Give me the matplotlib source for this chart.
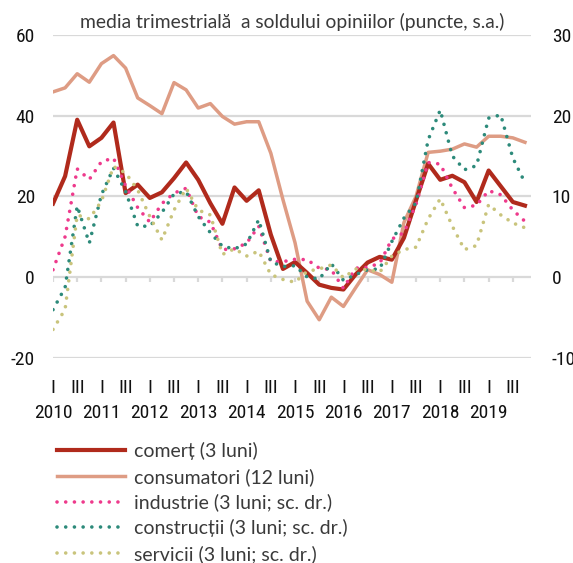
import numpy as np
import matplotlib
matplotlib.use("Agg")
import matplotlib.pyplot as plt
from matplotlib import font_manager


# quarterly values, 2010 Q1 .. 2019 Q4
comert = [18.2, 25, 39, 32.4, 34.5, 38.3, 20.8, 22.9, 19.6, 21,
          24.5, 28.4, 24.1, 18.3, 13.2, 22.2, 18.9, 21.5, 10.5, 2,
          3.7, 1, -1.9, -2.7, -3.1, 0.6, 3.6, 5, 4.3, 9.7,
          19, 28.1, 24.1, 25.1, 23.5, 18.6, 26.4, 22.5, 18.6, 17.7]
consumatori = [45.9, 46.9, 50.4, 48.3, 52.9, 54.9, 51.8, 44.4, 42.5, 40.5,
               48.2, 46.4, 41.9, 43, 39.8, 37.9, 38.5, 38.5, 30.7, 19.2,
               8.5, -6, -10.6, -5, -7.3, -2.7, 1.8, 0.6, -1.3, 13.5,
               20, 30.9, 31.2, 31.7, 33, 32.2, 34.9, 34.9, 34.5, 33.4]
# right-hand scale
industrie = [0.9, 5, 13.4, 12.1, 14.3, 14.75, 11.3, 8.6, 6.8, 9.1,
             10.4, 11, 7.5, 6.8, 3.4, 3.5, 4.2, 6.3, 1.9, 1.9,
             2.2, 2.15, 1.1, 0.9, -1.4, 1.1, 1.2, 1.7, 4.7, 5.5,
             9, 14.2, 14, 11, 8.6, 8.9, 10.7, 10.2, 8.3, 6.9]
constructii = [-4.05, -1.3, 8.8, 4.2, 10.2, 13.5, 10.6, 6.3, 6.3, 8,
               10.3, 10.6, 7.5, 5.5, 3.8, 3.5, 4.1, 7.1, 1.9, 1.3,
               1.4, 0, -0.25, 1.65, -0.4, 0.3, 0.9, 1, 4.4, 7.3,
               9.2, 17, 20.7, 15, 13.3, 13.8, 19.7, 20.1, 14.75, 11.7]
servicii = [-6.5, -4, 7.7, 7.2, 9.4, 13.7, 12.9, 10.8, 7.5, 4.6,
            8.3, 11, 8.3, 7.7, 2.8, 3.5, 2.6, 3.2, 0.3, -0.3,
            -0.65, 0.7, 1, 1.5, -0.1, 1, 0.9, 0.6, 2.6, 3.4,
            3.7, 7.2, 9.7, 6.3, 3.4, 3.9, 9, 7.7, 6.7, 6.1]

years = list(range(2010, 2020))
quarter_labels = ["I", "III"]

labels = [
    "comerț (3 luni)",
    "consumatori (12 luni)",
    "industrie (3 luni; sc. dr.)",
    "construcții (3 luni; sc. dr.)",
    "servicii (3 luni; sc. dr.)",
]
title = "media trimestrială  a soldului opiniilor (puncte, s.a.)"

# look for a condensed face for the tick labels
installed = {f.name for f in font_manager.fontManager.ttflist}
narrow = None
for name in ["Roboto Condensed", "Liberation Sans Narrow", "DejaVu Sans Condensed",
             "Open Sans Condensed", "Noto Sans Condensed"]:
    if name in installed:
        narrow = name
        break
if narrow:
    tick_font = [narrow, "DejaVu Sans"]
    tick_size = 14
else:
    tick_font = ["Lato", "DejaVu Sans"]
    tick_size = 12.5
text_font = ["Lato", "DejaVu Sans"]
plt.rcParams["axes.unicode_minus"] = False

fig = plt.figure(figsize=(5.73, 5.63), dpi=100)
ax = fig.add_axes([0.0925, 0.3647, 0.8342, 0.5731])
ax2 = ax.twinx()

x = np.arange(len(comert))
dots = (0, (0.01, 2.4))

l1, = ax.plot(x, comert, color="#B02A1C", lw=3.0, zorder=3)
l2, = ax.plot(x, consumatori, color="#DE9C84", lw=2.5, zorder=2)
l3, = ax2.plot(x, industrie, color="#EE3A8C", lw=2.6, ls=dots, dash_capstyle="round")
l4, = ax2.plot(x, constructii, color="#2C8A7A", lw=2.6, ls=dots, dash_capstyle="round")
l5, = ax2.plot(x, servicii, color="#C9C47C", lw=2.6, ls=dots, dash_capstyle="round")

ax.set_xlim(0, 39.5)
ax.set_ylim(-20, 60)
ax2.set_ylim(-10, 30)
ax.set_yticks([-20, 0, 20, 40, 60])
ax2.set_yticks([-10, 0, 10, 20, 30])
ax.yaxis.grid(True, color="#D9D9D9", lw=1.6)
ax.set_axisbelow(True)

# quarter marks (I / III) as major ticks, years as minor ticks below them
ticks = np.arange(0, 40, 2)
ax.set_xticks(ticks, [quarter_labels[(t // 2) % 2] for t in ticks])
year_ticks = np.arange(0, 40, 4)
ax.xaxis.remove_overlapping_locs = False
ax.set_xticks(year_ticks, [str(y) for y in years], minor=True)
ax.vlines(ticks, -1.3, 0, color="#D9D9D9", lw=1.6, zorder=1)

for a in (ax, ax2):
    for s in a.spines.values():
        s.set_visible(False)
ax.tick_params(axis="x", which="major", length=0, pad=15)
ax.tick_params(axis="x", which="minor", length=0, pad=33)
ax.tick_params(axis="y", length=0, pad=13)
ax2.tick_params(axis="y", length=0, pad=15)

all_labels = (ax.get_xticklabels() + ax.get_xticklabels(minor=True)
              + ax.get_yticklabels() + ax2.get_yticklabels())
for lab in all_labels:
    lab.set_family(tick_font)
    lab.set_fontsize(tick_size)
    lab.set_color("#111111")

fig.text(0.5105, 0.961, title, ha="center", va="center", family=text_font,
         fontsize=13.9, color="#3A3A3A")

fig.legend([l1, l2, l3, l4, l5], labels, loc="upper left",
           bbox_to_anchor=(57 / 573, 1 - 442 / 563), frameon=False,
           prop={"family": text_font, "size": 14}, labelcolor="#3A3A3A",
           handlelength=3.5, handletextpad=0.45, labelspacing=0.4,
           borderpad=0, borderaxespad=0)

fig.savefig("out.png", dpi=100)
